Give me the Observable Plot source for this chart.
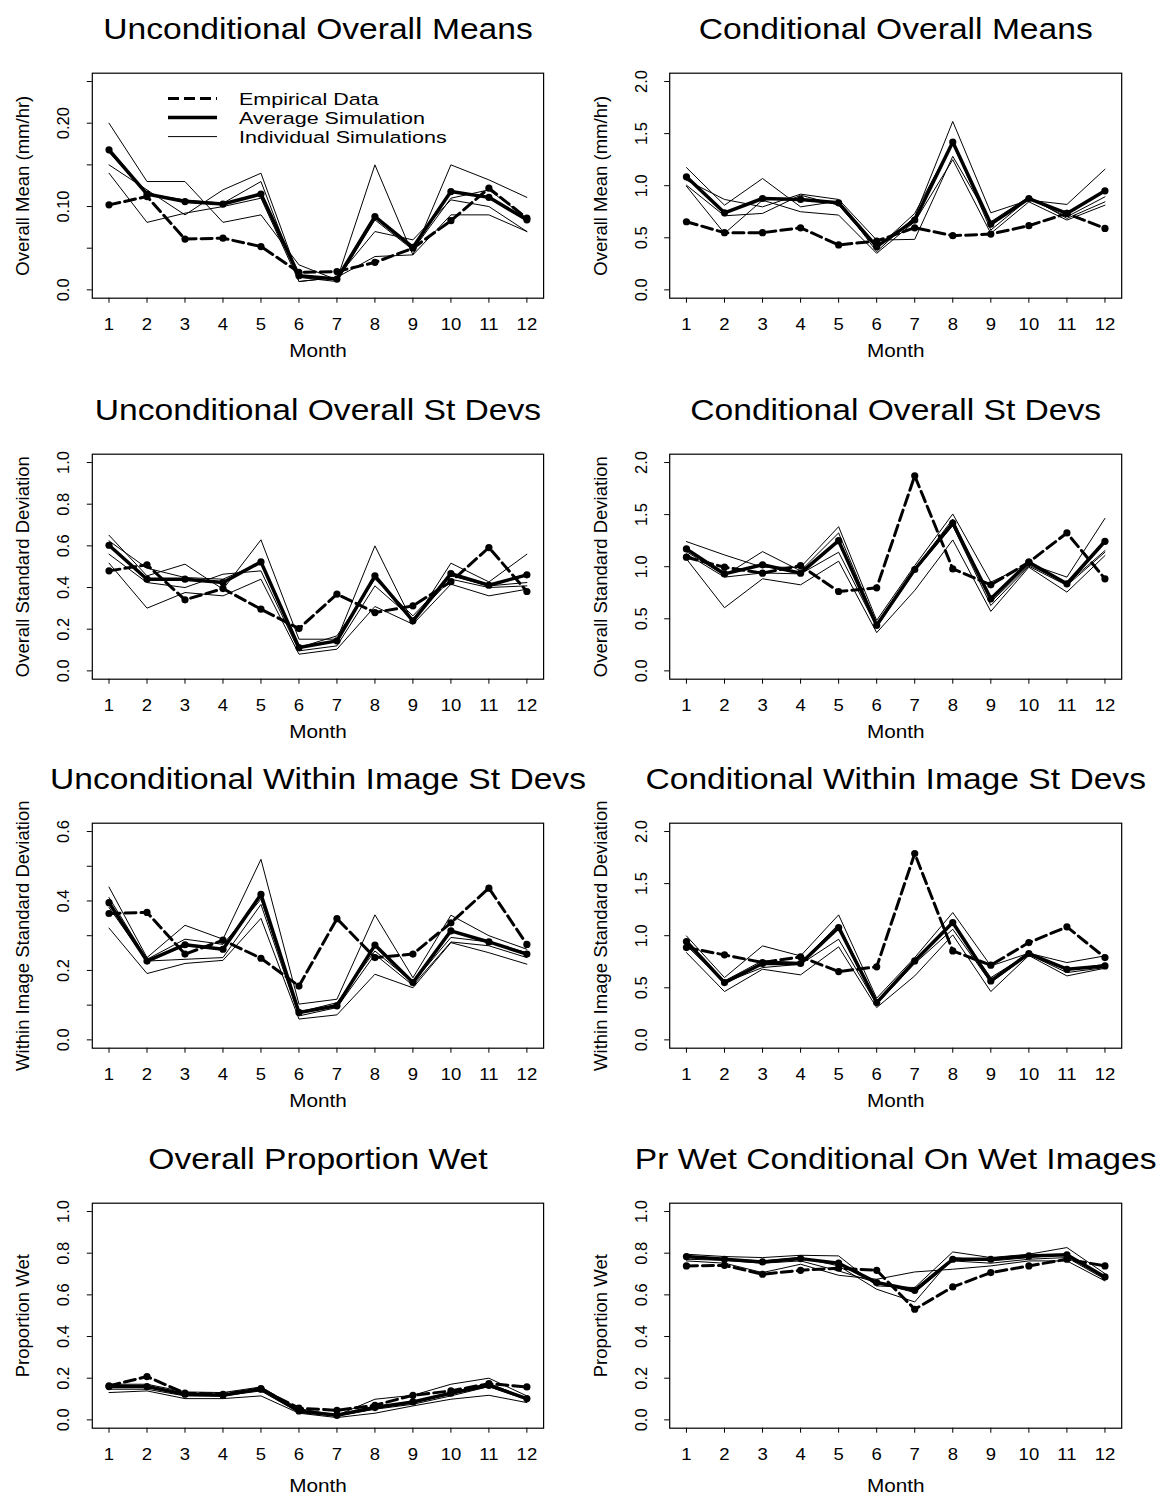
<!DOCTYPE html>
<html>
<head>
<meta charset="utf-8">
<script src="https://cdn.jsdelivr.net/npm/d3@7"></script>
<script src="https://cdn.jsdelivr.net/npm/@observablehq/plot@0.6"></script>
<style>
  html, body { margin: 0; padding: 0; background: #fff; }
  #fig { position: relative; width: 1159px; height: 1497px; overflow: hidden; background: #fff;
         font-family: "Liberation Sans", Arial, Helvetica, sans-serif; }
  #fig svg { position: absolute; overflow: visible; background: none; }
</style>
</head>
<body>
<div id="fig"></div>
<script>
// ---- data ------------------------------------------------------------
const months = [1, 2, 3, 4, 5, 6, 7, 8, 9, 10, 11, 12];

// Unconditional overall means (mm/hr)
const uncondMeanEmp = [0.102, 0.112, 0.061, 0.062, 0.052, 0.021, 0.022, 0.033, 0.050, 0.083, 0.122, 0.086];
const uncondMeanAvg = [0.168, 0.115, 0.106, 0.103, 0.115, 0.017, 0.013, 0.088, 0.051, 0.118, 0.111, 0.084];
const uncondMeanSims = [
  [0.200, 0.130, 0.130, 0.081, 0.090, 0.030, 0.012, 0.150, 0.042, 0.150, 0.132, 0.111],
  [0.150, 0.120, 0.090, 0.120, 0.140, 0.015, 0.010, 0.084, 0.048, 0.110, 0.120, 0.086],
  [0.165, 0.115, 0.108, 0.104, 0.130, 0.010, 0.015, 0.070, 0.060, 0.108, 0.100, 0.070],
  [0.140, 0.081, 0.092, 0.100, 0.110, 0.010, 0.015, 0.040, 0.042, 0.090, 0.090, 0.070]
];

// Conditional overall means (mm/hr)
const condMeanEmp = [0.654, 0.549, 0.549, 0.596, 0.431, 0.469, 0.596, 0.520, 0.536, 0.616, 0.734, 0.590];
const condMeanAvg = [1.085, 0.740, 0.877, 0.868, 0.836, 0.415, 0.670, 1.419, 0.632, 0.877, 0.734, 0.951];
const condMeanSims = [
  [1.174, 0.813, 1.069, 0.797, 0.852, 0.367, 0.702, 1.617, 0.740, 0.861, 0.820, 1.158],
  [1.053, 0.868, 0.797, 0.919, 0.868, 0.478, 0.485, 1.282, 0.654, 0.893, 0.686, 0.845],
  [1.005, 0.711, 0.734, 0.909, 0.813, 0.399, 0.734, 1.420, 0.574, 0.877, 0.702, 0.893],
  [0.995, 0.542, 0.861, 0.750, 0.718, 0.351, 0.654, 1.250, 0.542, 0.845, 0.670, 0.813]
];

// Unconditional overall standard deviations
const uncondSdEmp = [0.480, 0.509, 0.341, 0.395, 0.296, 0.203, 0.368, 0.280, 0.312, 0.428, 0.592, 0.381];
const uncondSdAvg = [0.603, 0.440, 0.440, 0.424, 0.523, 0.112, 0.144, 0.456, 0.240, 0.467, 0.411, 0.461];
const uncondSdSims = [
  [0.651, 0.456, 0.512, 0.392, 0.629, 0.152, 0.152, 0.600, 0.232, 0.517, 0.427, 0.560],
  [0.624, 0.493, 0.448, 0.440, 0.520, 0.112, 0.168, 0.440, 0.264, 0.456, 0.408, 0.424],
  [0.560, 0.424, 0.400, 0.464, 0.480, 0.096, 0.120, 0.408, 0.248, 0.440, 0.400, 0.408],
  [0.517, 0.301, 0.376, 0.360, 0.440, 0.080, 0.104, 0.309, 0.224, 0.416, 0.360, 0.392]
];

// Conditional overall standard deviations
const condSdEmp = [1.091, 0.995, 0.938, 1.011, 0.762, 0.797, 1.872, 0.979, 0.826, 1.043, 1.324, 0.884];
const condSdAvg = [1.171, 0.931, 1.018, 0.938, 1.250, 0.437, 0.973, 1.419, 0.692, 1.043, 0.836, 1.244];
const condSdSims = [
  [1.241, 1.113, 0.995, 0.995, 1.384, 0.485, 1.011, 1.506, 0.852, 1.027, 0.900, 1.464],
  [1.145, 0.915, 1.145, 0.960, 1.324, 0.453, 0.973, 1.458, 0.660, 1.017, 0.836, 1.155],
  [1.123, 0.900, 0.940, 0.931, 1.139, 0.421, 0.960, 1.394, 0.628, 1.005, 0.820, 1.139],
  [1.075, 0.606, 0.884, 0.826, 1.053, 0.367, 0.772, 1.257, 0.571, 0.995, 0.756, 1.107]
];

// Unconditional within-image standard deviations
const uncondWithinEmp = [0.364, 0.367, 0.247, 0.287, 0.235, 0.155, 0.349, 0.237, 0.247, 0.337, 0.437, 0.275];
const uncondWithinAvg = [0.395, 0.227, 0.274, 0.261, 0.419, 0.079, 0.098, 0.273, 0.165, 0.314, 0.282, 0.247];
const uncondWithinSims = [
  [0.440, 0.237, 0.330, 0.290, 0.520, 0.103, 0.117, 0.360, 0.179, 0.359, 0.300, 0.261],
  [0.410, 0.232, 0.290, 0.275, 0.405, 0.080, 0.107, 0.256, 0.165, 0.295, 0.282, 0.251],
  [0.381, 0.227, 0.232, 0.237, 0.390, 0.069, 0.093, 0.246, 0.157, 0.282, 0.271, 0.237],
  [0.322, 0.191, 0.220, 0.229, 0.350, 0.060, 0.072, 0.189, 0.150, 0.280, 0.251, 0.218]
];

// Conditional within-image standard deviations
const condWithinEmp = [0.886, 0.816, 0.742, 0.797, 0.656, 0.701, 1.789, 0.854, 0.717, 0.934, 1.085, 0.790];
const condWithinAvg = [0.944, 0.550, 0.733, 0.733, 1.078, 0.358, 0.758, 1.126, 0.566, 0.829, 0.678, 0.710];
const condWithinSims = [
  [0.998, 0.598, 0.902, 0.806, 1.200, 0.400, 0.790, 1.222, 0.710, 0.832, 0.742, 0.806],
  [0.944, 0.566, 0.760, 0.742, 1.110, 0.366, 0.758, 1.110, 0.598, 0.826, 0.669, 0.726],
  [0.906, 0.550, 0.694, 0.726, 0.966, 0.342, 0.733, 1.062, 0.550, 0.819, 0.646, 0.694],
  [0.838, 0.464, 0.678, 0.624, 0.893, 0.310, 0.614, 1.008, 0.464, 0.810, 0.614, 0.688]
];

// Overall proportion wet
const propWetEmp = [0.163, 0.208, 0.128, 0.123, 0.147, 0.056, 0.046, 0.070, 0.118, 0.139, 0.174, 0.158];
const propWetAvg = [0.160, 0.160, 0.123, 0.118, 0.150, 0.043, 0.022, 0.059, 0.086, 0.128, 0.166, 0.102];
const propWetSims = [
  [0.171, 0.171, 0.134, 0.131, 0.158, 0.054, 0.022, 0.099, 0.118, 0.171, 0.200, 0.115],
  [0.160, 0.160, 0.123, 0.123, 0.147, 0.043, 0.022, 0.067, 0.083, 0.131, 0.176, 0.102],
  [0.147, 0.147, 0.115, 0.115, 0.139, 0.035, 0.019, 0.051, 0.075, 0.115, 0.160, 0.096],
  [0.131, 0.139, 0.102, 0.102, 0.115, 0.032, 0.011, 0.032, 0.067, 0.099, 0.118, 0.083]
];

// Proportion wet conditional on wet images
const condPropWetEmp = [0.739, 0.742, 0.699, 0.718, 0.728, 0.718, 0.531, 0.638, 0.707, 0.739, 0.771, 0.739];
const condPropWetAvg = [0.784, 0.771, 0.758, 0.774, 0.752, 0.659, 0.622, 0.771, 0.771, 0.787, 0.792, 0.686];
const condPropWetSims = [
  [0.795, 0.784, 0.779, 0.790, 0.787, 0.643, 0.635, 0.806, 0.779, 0.795, 0.827, 0.702],
  [0.779, 0.771, 0.763, 0.779, 0.739, 0.627, 0.566, 0.779, 0.763, 0.779, 0.795, 0.686],
  [0.771, 0.766, 0.752, 0.763, 0.715, 0.659, 0.611, 0.763, 0.752, 0.771, 0.779, 0.675],
  [0.763, 0.752, 0.707, 0.747, 0.694, 0.675, 0.710, 0.723, 0.739, 0.763, 0.763, 0.667]
];

// y-axis ticks and their printed labels
const ticksMean = [0, 0.05, 0.10, 0.15, 0.20, 0.25];
const labelsMean = ["0.0", "", "0.10", "", "0.20", ""];
const ticksTwo = [0, 0.5, 1.0, 1.5, 2.0];
const labelsTwo = ["0.0", "0.5", "1.0", "1.5", "2.0"];
const ticksOne = [0, 0.2, 0.4, 0.6, 0.8, 1.0];
const labelsOne = ["0.0", "0.2", "0.4", "0.6", "0.8", "1.0"];
const ticksWithin = [0, 0.1, 0.2, 0.3, 0.4, 0.5, 0.6];
const labelsWithin = ["0.0", "", "0.2", "", "0.4", "", "0.6"];

// panel titles and axis titles
const titles = [
  "Unconditional Overall Means", "Conditional Overall Means",
  "Unconditional Overall St Devs", "Conditional Overall St Devs",
  "Unconditional Within Image St Devs", "Conditional Within Image St Devs",
  "Overall Proportion Wet", "Pr Wet Conditional On Wet Images"
];
const yTitles = [
  "Overall Mean (mm/hr)", "Overall Mean (mm/hr)",
  "Overall Standard Deviation", "Overall Standard Deviation",
  "Within Image Standard Deviation", "Within Image Standard Deviation",
  "Proportion Wet", "Proportion Wet"
];
const yLimits = [[0, 0.25], [0, 2], [0, 1], [0, 2], [0, 0.6], [0, 2], [0, 1], [0, 1]];

const legendEntries = ["Empirical Data", "Average Simulation", "Individual Simulations"];

// ---- layout ----------------------------------------------------------
const FONT = '"Liberation Sans", Arial, Helvetica, sans-serif';
const WIDE = 1.12;                       // horizontal text widening of the figure
const LEGEND_WIDE = 1.28;                // legend text is set wider still
const rowFrameTop = [72.7, 453.3, 822.4, 1202.6];
const FRAME_H = 225;
const SVG_H = 367;
const colLayout = [
  {left: 0, width: 579, marginLeft: 91.8, frameW: 451.3},
  {left: 579, width: 580, marginLeft: 90.2, frameW: 452.0}
];

const series = [
  [uncondMeanEmp, uncondMeanAvg, uncondMeanSims, ticksMean, labelsMean],
  [condMeanEmp, condMeanAvg, condMeanSims, ticksTwo, labelsTwo],
  [uncondSdEmp, uncondSdAvg, uncondSdSims, ticksOne, labelsOne],
  [condSdEmp, condSdAvg, condSdSims, ticksTwo, labelsTwo],
  [uncondWithinEmp, uncondWithinAvg, uncondWithinSims, ticksWithin, labelsWithin],
  [condWithinEmp, condWithinAvg, condWithinSims, ticksTwo, labelsTwo],
  [propWetEmp, propWetAvg, propWetSims, ticksOne, labelsOne],
  [condPropWetEmp, condPropWetAvg, condPropWetSims, ticksOne, labelsOne]
];

const fig = document.getElementById("fig");

function drawPanel(k) {
  const [emp, avg, sims, ticks, tickLabels] = series[k];
  const row = Math.floor(k / 2), col = k % 2;
  const L = colLayout[col];
  const [lo, hi] = yLimits[k];
  const pad = 0.04 * (hi - lo);
  const xpad = 0.04 * (months[months.length - 1] - months[0]);

  const empData = emp.map((v, i) => ({month: months[i], value: v}));
  const avgData = avg.map((v, i) => ({month: months[i], value: v}));
  const simData = sims.flatMap((s, r) => s.map((v, i) => ({month: months[i], value: v, run: r})));
  const labelOf = new Map(ticks.map((t, i) => [t.toFixed(3), tickLabels[i]]));

  const svg = Plot.plot({
    width: L.width,
    height: SVG_H,
    marginLeft: L.marginLeft,
    marginRight: L.width - L.marginLeft - L.frameW,
    marginTop: 72.7,
    marginBottom: SVG_H - 72.7 - FRAME_H,
    x: {domain: [months[0] - xpad, months[months.length - 1] + xpad]},
    y: {domain: [lo - pad, hi + pad]},
    style: {fontFamily: FONT, fontSize: "16.5px", color: "black", background: "none", overflow: "visible"},
    marks: [
      Plot.frame({stroke: "black", strokeWidth: 1.2}),
      Plot.axisX({ticks: months, tickSize: 5, tickPadding: 15.5, tickFormat: d => String(d), label: null, strokeWidth: 1}),
      Plot.axisY({ticks, tickSize: 5, tickPadding: 18, tickRotate: -90,
                  tickFormat: d => labelOf.get(d.toFixed(3)) ?? "", label: null, strokeWidth: 1}),
      Plot.line(simData, {x: "month", y: "value", z: "run", stroke: "black", strokeWidth: 1}),
      Plot.line(avgData, {x: "month", y: "value", stroke: "black", strokeWidth: 3.5}),
      Plot.dot(avgData, {x: "month", y: "value", r: 3.6, fill: "black"}),
      Plot.line(empData, {x: "month", y: "value", stroke: "black", strokeWidth: 3, strokeDasharray: "11,5"}),
      Plot.dot(empData, {x: "month", y: "value", r: 3.6, fill: "black"}),
      Plot.text([titles[k]], {text: d => d, frameAnchor: "top", dy: -34.4, lineAnchor: "bottom", fontSize: 30}),
      Plot.text([yTitles[k]], {text: d => d, frameAnchor: "left", textAnchor: "middle", dx: -69, rotate: -90, fontSize: 18.5}),
      Plot.text(["Month"], {text: d => d, frameAnchor: "bottom", dy: row === 3 ? 64 : 59, fontSize: 18.5})
    ]
  });
  svg.style.left = L.left + "px";
  svg.style.top = (rowFrameTop[row] - 72.7) + "px";
  fig.appendChild(svg);
  return svg;
}

const svgs = d3.range(8).map(drawPanel);

// widen horizontal text to the figure's proportions
function widen(t, factor) {
  const len = t.getComputedTextLength();
  if (len > 0) {
    t.setAttribute("textLength", (len * factor).toFixed(2));
    t.setAttribute("lengthAdjust", "spacingAndGlyphs");
  }
}
for (const svg of svgs) {
  svg.querySelectorAll("text").forEach(t => {
    const tf = (t.getAttribute("transform") || "") + (t.parentNode.getAttribute && (t.parentNode.getAttribute("transform") || ""));
    if (/rotate/.test(tf)) return;
    if (!t.textContent) return;
    widen(t, WIDE);
  });
}

// legend for the three line styles, top-left inside the first panel
{
  const g = d3.select(svgs[0]).append("g").attr("class", "legend");
  const styles = [
    {w: 3, dash: "11,5"},
    {w: 3.5, dash: null},
    {w: 1, dash: null}
  ];
  const rowsY = [98.6, 117.6, 136.6];
  legendEntries.forEach((label, i) => {
    g.append("line")
      .attr("x1", 168).attr("x2", 217)
      .attr("y1", rowsY[i]).attr("y2", rowsY[i])
      .attr("stroke", "black")
      .attr("stroke-width", styles[i].w)
      .attr("stroke-dasharray", styles[i].dash);
    const t = g.append("text")
      .attr("x", 239).attr("y", rowsY[i] + 6.1)
      .attr("font-size", 16.8)
      .attr("text-anchor", "start")
      .attr("fill", "black")
      .text(label);
    widen(t.node(), LEGEND_WIDE);
  });
}
</script>
</body>
</html>
